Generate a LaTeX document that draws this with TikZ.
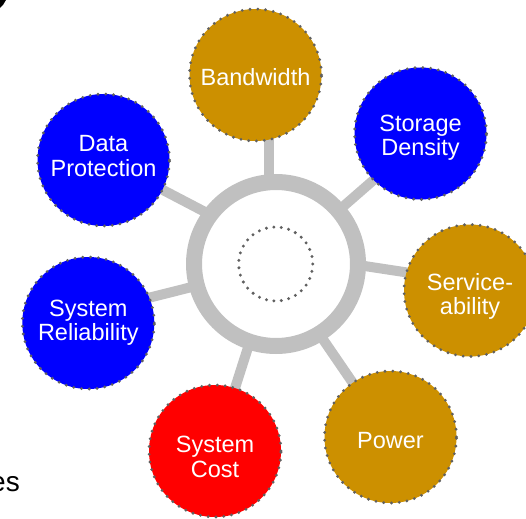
\documentclass[tikz,border=0pt]{standalone}
\usepackage{fontspec}
\setmainfont{Liberation Sans}
\pgfdeclarelayer{back}
\pgfsetlayers{back,main}
\definecolor{gold}{RGB}{204,144,0}
\definecolor{pureblue}{RGB}{0,0,255}
\definecolor{purered}{RGB}{255,0,0}
\definecolor{ringgray}{RGB}{192,192,192}
\definecolor{dotgray}{RGB}{96,96,96}
\tikzset{
  sat/.style={circle, minimum size=132pt, inner sep=0pt, draw=dotgray, line width=3.1pt,
    line cap=round, dash pattern=on 0pt off 7.8pt},
  lbl/.style={draw=none, fill=none, solid, inner sep=0pt, text=white, align=center,
    font=\fontsize{23.5}{24.3}\selectfont},
  hubring/.style={circle, minimum size=164pt, inner sep=0pt, draw=ringgray,
    line width=16pt, fill=white},
  hubcore/.style={circle, minimum size=74pt, inner sep=0pt, draw=dotgray,
    line width=3.3pt, line cap=round, dash pattern=on 0pt off 7.5pt},
  spoke/.style={draw=ringgray, line width=10pt},
}
\begin{document}
\begin{tikzpicture}[x=1pt, y=-1pt]
\useasboundingbox (0,0) rectangle (526,518);

% hub in the middle
\node[hubring] (hub) at (276,264) {};
\node[hubcore] (core) at (275.7,264) {};

% the seven attributes round the hub, each with its name inside
\node[sat, fill=gold,     label={[lbl, yshift=-2pt]center:Bandwidth}]              (bw) at (255.5,75)    {};
\node[sat, fill=pureblue, label={[lbl, yshift=-4.5pt]center:{Storage\\Density}}]   (sd) at (420.5,133.5) {};
\node[sat, fill=gold,     label={[lbl, yshift=-6pt]center:{Service-\\ability}}]    (sv) at (470,290.5)   {};
\node[sat, fill=gold,     label={[lbl, yshift=-4pt]center:Power}]                  (pw) at (390.5,437)   {};
\node[sat, fill=purered,  label={[lbl, yshift=-6pt]center:{System\\Cost}}]         (sc) at (215,451)     {};
\node[sat, fill=pureblue, label={[lbl]center:{System\\Reliability}}]               (sr) at (88.3,323)    {};
\node[sat, fill=pureblue, label={[lbl, yshift=4pt]center:{Data\\Protection}}]      (dp) at (103.5,160)   {};

% spoke ends: one under the ring, one under each attribute
\coordinate (bw-in) at (269,185);   \coordinate (bw-out) at (269,120);
\coordinate (sd-in) at (330,218);   \coordinate (sd-out) at (397.7,159);
\coordinate (sv-in) at (358,265);   \coordinate (sv-out) at (430,276);
\coordinate (pw-in) at (320,335);   \coordinate (pw-out) at (370,408);
\coordinate (sc-in) at (252,335);   \coordinate (sc-out) at (228,410);
\coordinate (sr-in) at (205,283.7); \coordinate (sr-out) at (130,302.5);
\coordinate (dp-in) at (215,217.2); \coordinate (dp-out) at (140,178);

\begin{pgfonlayer}{back}
  \foreach \s in {bw,sd,sv,pw,sc,sr,dp}
    \draw[spoke] (\s-in) -- (\s-out);
\end{pgfonlayer}

% cut-off pieces at the edges
\fill[black] (0,0) -- (6,0) -- (3,5) -- (0,8) -- cycle;
\node[anchor=base east, inner sep=0pt, font=\fontsize{28}{28}\selectfont] (es) at (20,491) {es};
\end{tikzpicture}
\end{document}
